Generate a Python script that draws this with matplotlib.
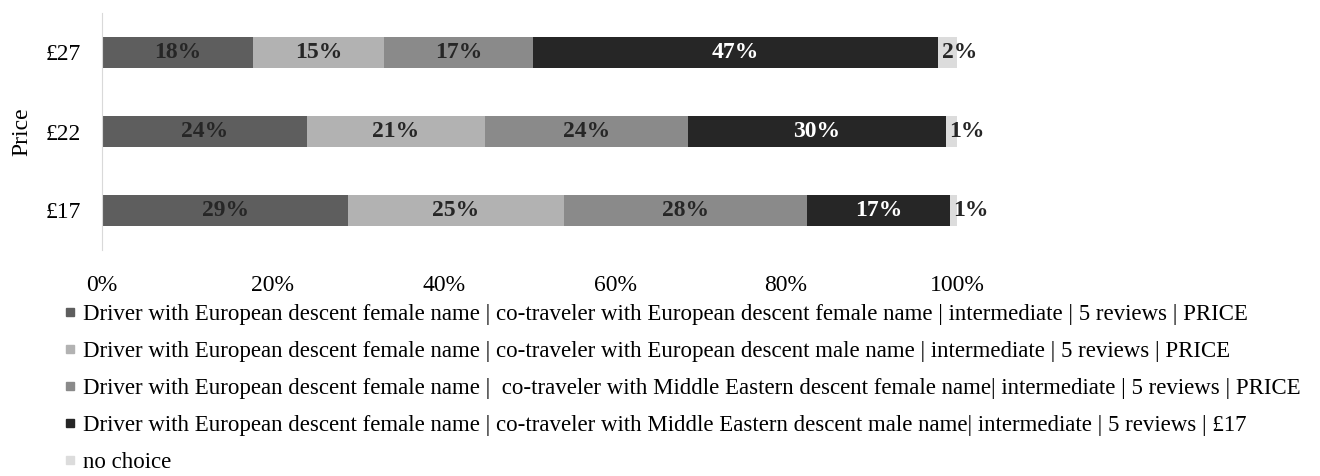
import numpy as np
import matplotlib.pyplot as plt
from matplotlib.lines import Line2D

plt.rcParams['font.family'] = ['Liberation Serif', 'DejaVu Serif']

prices = ['£17', '£22', '£27']
# shares per price row (bottom to top)
european_female = [28.8, 24.0, 17.7]
european_male = [25.2, 20.8, 15.3]
me_female = [28.4, 23.7, 17.4]
me_male = [16.8, 30.2, 47.4]
no_choice = [0.8, 1.3, 2.2]

series = [european_female, european_male, me_female, me_male, no_choice]
names = [
    "Driver with European descent female name | co-traveler with European descent female name | intermediate | 5 reviews | PRICE",
    "Driver with European descent female name | co-traveler with European descent male name | intermediate | 5 reviews | PRICE",
    "Driver with European descent female name |  co-traveler with Middle Eastern descent female name| intermediate | 5 reviews | PRICE",
    "Driver with European descent female name | co-traveler with Middle Eastern descent male name| intermediate | 5 reviews | £17",
    "no choice",
]
colors = ['#5e5e5e', '#b2b2b2', '#8a8a8a', '#262626', '#dcdcdc']
text_colors = ['#262626', '#262626', '#262626', 'white', '#262626']

fig = plt.figure(figsize=(13.2, 4.76), dpi=100)
ax = fig.add_axes([102/1320, 1-250/476, 855/1320, 237/476])

y = np.arange(len(prices))
left = np.zeros(len(prices))
for i, vals in enumerate(series):
    vals = np.array(vals) / 100
    ax.barh(y, vals, left=left, height=0.39, color=colors[i])
    for yy, l, v in zip(y, left, vals):
        if i == len(series) - 1:
            ax.text(l + 0.004, yy, f"{v*100:.0f}%", ha='left', va='center',
                    fontsize=17, fontweight='bold', color=text_colors[i], clip_on=False)
        else:
            ax.text(l + v/2, yy, f"{v*100:.0f}%", ha='center', va='center',
                    fontsize=17, fontweight='bold', color=text_colors[i])
    left += vals

ax.set_xlim(0, 1)
ax.set_ylim(-0.5, 2.5)
ax.set_yticks(y)
ax.set_yticklabels(prices, fontsize=17)
ax.set_xticks(np.linspace(0, 1, 6))
ax.set_xticklabels([f"{int(t)}%" for t in np.linspace(0, 100, 6)], fontsize=17)
ax.tick_params(axis='both', length=0)
ax.tick_params(axis='y', pad=15)
ax.tick_params(axis='x', pad=18)
ax.set_ylabel('Price', fontsize=17, labelpad=10)
for s in ['top', 'right', 'bottom']:
    ax.spines[s].set_visible(False)
ax.spines['left'].set_color('#d9d9d9')

handles = [Line2D([], [], marker='s', linestyle='none', markersize=5.5,
                  markerfacecolor=c, markeredgecolor=c) for c in colors]
fig.legend(handles, names, loc='upper left', bbox_to_anchor=(67/1320, 1-304/476),
           frameon=False, fontsize=16.5, handlelength=0.3,
           handletextpad=0.4, labelspacing=0.7, borderpad=0, borderaxespad=0)

fig.savefig('out.png', dpi=100)
